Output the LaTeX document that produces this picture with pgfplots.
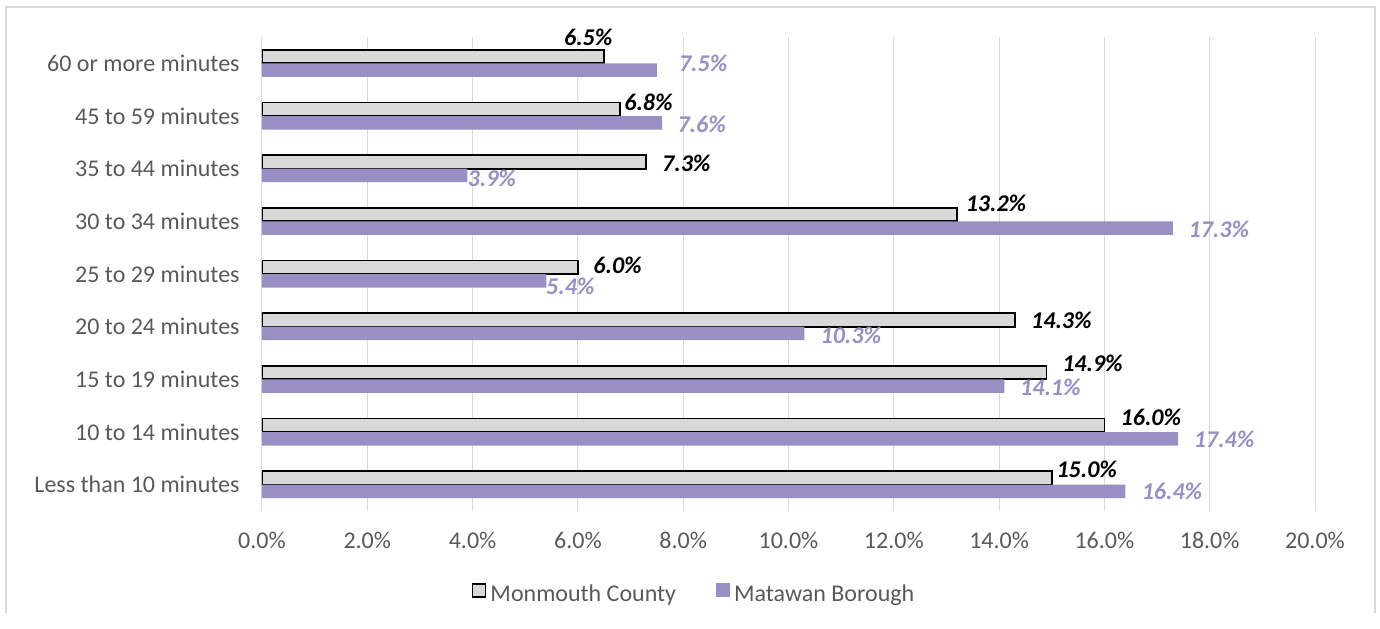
\documentclass[border=0pt]{standalone}
\usepackage{pgfplots}
\pgfplotsset{compat=1.18}
\usepackage{pgfplotstable}
\usepackage{fontspec}
\setmainfont{Carlito}
\definecolor{barpurple}{HTML}{9A8FC4}
\definecolor{bargray}{HTML}{D9D9D9}
\definecolor{gridgray}{HTML}{D9D9D9}
\definecolor{txtgray}{HTML}{595959}

\pgfplotstableread{
y val dx dy
8 6.5 -8 9.5
7 6.8 14.25 3.25
6 7.3 20 -0.5
5 13.2 19.5 5.5
4 6.0 19.85 1
3 14.3 23.25 -0.25
2 14.9 23 4.75
1 16.0 23.25 3.75
0 15.0 17.5 4.25
}\monmouth

\pgfplotstableread{
y val dx dy
8 7.5 23.15 3.5
7 7.6 19.75 -0.75
6 3.9 12.25 -1.25
5 17.3 23 -0.5
4 5.4 12 -3
3 10.3 23.25 -1
2 14.1 23 -0.5
1 17.4 23 -0.5
0 16.4 23.25 0
}\matawan

\begin{document}
\begin{tikzpicture}
\path[use as bounding box] (-131pt,-58.5pt) rectangle (559pt,255.5pt);
\draw[gridgray, line width=0.6pt] (-128pt,-51pt) -- (-128pt,252pt) -- (556.5pt,252pt) -- (556.5pt,-51pt);
\begin{axis}[
  at={(0,0)}, anchor=south west,
  scale only axis, width=526.5pt, height=237pt,
  xbar, bar width=6.75pt,
  xmin=0, xmax=20, ymin=-0.5, ymax=8.5,
  xtick={0,2,...,20},
  xticklabels={0.0\%,2.0\%,4.0\%,6.0\%,8.0\%,10.0\%,12.0\%,14.0\%,16.0\%,18.0\%,20.0\%},
  ytick={0,1,...,8},
  yticklabels={Less than 10 minutes,10 to 14 minutes,15 to 19 minutes,20 to 24 minutes,25 to 29 minutes,30 to 34 minutes,35 to 44 minutes,45 to 59 minutes,60 or more minutes},
  xmajorgrids, ymajorgrids=false,
  major grid style={gridgray, line width=0.5pt},
  axis line style={draw=none},
  major tick length=0pt,
  tick label style={font=\fontsize{12}{14}\selectfont, text=txtgray},
  xticklabel style={anchor=center, inner sep=0pt, yshift=-14.5pt},
  yticklabel style={anchor=east, inner sep=0pt, xshift=-11pt},
  legend style={at={(axis description cs:0.4112,-0.1772)}, anchor=center, draw=none, fill=none,
    font=\fontsize{12}{14}\selectfont, text=txtgray,
    /tikz/every even column/.append style={column sep=18pt}},
  legend columns=2,
  legend cell align=left,
  point meta=x,
  nodes near coords={\pgfmathprintnumber[fixed,fixed zerofill,precision=1,assume math mode=true]{\pgfplotspointmeta}\%},
  visualization depends on={\thisrow{dx} \as \labdx},
  visualization depends on={\thisrow{dy} \as \labdy},
  every node near coord/.append style={anchor=center, xshift=\labdx pt, yshift=\labdy pt,
    font=\fontsize{12}{14}\selectfont\bfseries\itshape},
]
\addplot[draw=black, line width=0.9pt, fill=bargray, bar shift=3.375pt,
  every node near coord/.append style={text=black},
  legend image code/.code={\draw[draw=black, line width=0.9pt, fill=bargray] (0pt,-1pt) rectangle (6.5pt,5.5pt);}]
  table[x=val, y=y] {\monmouth};
\addlegendentry{Monmouth County}
\addplot[draw=none, fill=barpurple, bar shift=-3.375pt,
  every node near coord/.append style={text=barpurple},
  legend image code/.code={\fill[barpurple] (0pt,-1pt) rectangle (7pt,6pt);}]
  table[x=val, y=y] {\matawan};
\addlegendentry{Matawan Borough}
\end{axis}
\end{tikzpicture}
\end{document}
